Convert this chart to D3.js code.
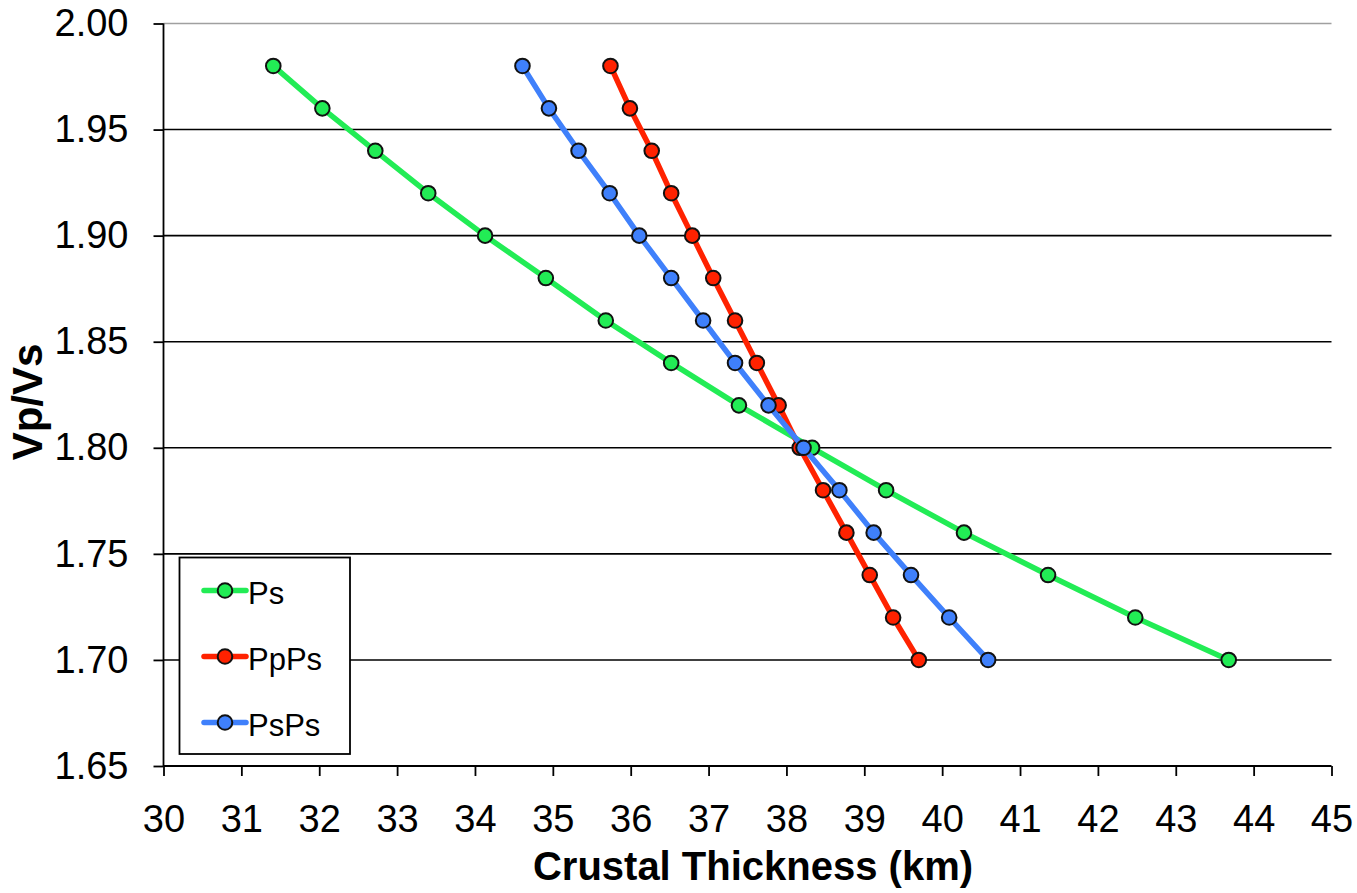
<!DOCTYPE html>
<html>
<head>
<meta charset="utf-8">
<script src="https://cdn.jsdelivr.net/npm/d3@7/dist/d3.min.js"></script>
<style>
  html, body { margin: 0; padding: 0; background: #fff; }
  svg { display: block; font-family: "Liberation Sans", Arial, sans-serif; }
</style>
</head>
<body>
<svg id="chart" width="1357" height="893"></svg>
<script>
// Vp/Vs ratios sampled for each phase
const vpvs = [1.98, 1.96, 1.94, 1.92, 1.90, 1.88, 1.86, 1.84, 1.82, 1.80, 1.78, 1.76, 1.74, 1.72, 1.70];

// Crustal thickness (km) for each Vp/Vs value
const psThickness   = [31.41, 32.04, 32.72, 33.40, 34.13, 34.91, 35.68, 36.52, 37.39, 38.33, 39.28, 40.28, 41.36, 42.48, 43.68];
const ppPsThickness = [35.74, 35.99, 36.27, 36.52, 36.79, 37.06, 37.34, 37.62, 37.90, 38.17, 38.47, 38.77, 39.07, 39.37, 39.70];
const psPsThickness = [34.61, 34.95, 35.33, 35.73, 36.11, 36.52, 36.93, 37.34, 37.77, 38.22, 38.68, 39.12, 39.60, 40.09, 40.59];

const seriesNames  = ["Ps", "PpPs", "PsPs"];
const seriesColors = ["#22ec55", "#ff2200", "#3f80fb"];

const xTicks = [30, 31, 32, 33, 34, 35, 36, 37, 38, 39, 40, 41, 42, 43, 44, 45];
const yTicks = [1.65, 1.70, 1.75, 1.80, 1.85, 1.90, 1.95, 2.00];

const series = [psThickness, ppPsThickness, psPsThickness].map((vals, i) => ({
  name: seriesNames[i],
  color: seriesColors[i],
  points: vals.map((t, j) => ({ x: t, y: vpvs[j] }))
}));

const svg = d3.select("#chart");
const margin = { left: 163.5, right: 1331.5, top: 23.5, bottom: 766 };

const x = d3.scaleLinear().domain([30, 45]).range([margin.left, margin.right]);
const y = d3.scaleLinear().domain([1.65, 2.00]).range([margin.bottom, margin.top]);

// Horizontal gridlines (top one lighter)
svg.append("g")
  .selectAll("line")
  .data(yTicks.filter(d => d > 1.65))
  .join("line")
  .attr("x1", x(30)).attr("x2", x(45))
  .attr("y1", d => y(d)).attr("y2", d => y(d))
  .attr("stroke", d => d >= 2.0 ? "#a0a0a0" : "#000")
  .attr("stroke-width", 1.6);

// Y axis
const yAxis = svg.append("g")
  .attr("transform", `translate(${x(30)},0)`)
  .call(d3.axisLeft(y).tickValues(yTicks).tickFormat(d3.format(".2f")).tickSize(10).tickPadding(25));
yAxis.select(".domain").attr("stroke", "#000").attr("stroke-width", 1.8).attr("d", `M0,${y(2.0)}V${y(1.65)}`);
yAxis.selectAll(".tick line").attr("stroke", "#000").attr("stroke-width", 1.8);
yAxis.selectAll(".tick text").attr("font-size", 38).attr("fill", "#000")
  .attr("font-family", "Liberation Sans, Arial, sans-serif");

// X axis
const xAxis = svg.append("g")
  .attr("transform", `translate(0,${y(1.65)})`)
  .call(d3.axisBottom(x).tickValues(xTicks).tickFormat(d3.format("d")).tickSize(10).tickPadding(29));
xAxis.select(".domain").attr("stroke", "#000").attr("stroke-width", 1.8).attr("d", `M${x(30)},0H${x(45)}`);
xAxis.selectAll(".tick line").attr("stroke", "#000").attr("stroke-width", 1.8);
xAxis.selectAll(".tick text").attr("font-size", 38).attr("fill", "#000")
  .attr("font-family", "Liberation Sans, Arial, sans-serif");

// Axis titles
svg.append("text")
  .attr("x", 753).attr("y", 880)
  .attr("text-anchor", "middle")
  .attr("font-size", 40).attr("font-weight", "bold")
  .text("Crustal Thickness (km)");

svg.append("text")
  .attr("transform", `translate(42,${402}) rotate(-90)`)
  .attr("text-anchor", "middle")
  .attr("font-size", 42).attr("font-weight", "bold")
  .text("Vp/Vs");

// Lines and markers
const line = d3.line().x(d => x(d.x)).y(d => y(d.y));

const groups = svg.append("g").selectAll("g")
  .data(series)
  .join("g");

groups.append("path")
  .attr("d", d => line(d.points))
  .attr("fill", "none")
  .attr("stroke", d => d.color)
  .attr("stroke-width", 5.5)
  .attr("stroke-linejoin", "round");

groups.each(function (s) {
  d3.select(this).selectAll("circle")
    .data(s.points)
    .join("circle")
    .attr("cx", d => x(d.x))
    .attr("cy", d => y(d.y))
    .attr("r", 7.3)
    .attr("fill", s.color)
    .attr("stroke", "#111")
    .attr("stroke-width", 2);
});

// Legend
const legend = svg.append("g");
legend.append("rect")
  .attr("x", 179.5).attr("y", 557.5)
  .attr("width", 170.5).attr("height", 196.5)
  .attr("fill", "#fff").attr("stroke", "#000").attr("stroke-width", 1.8);

const legendY = [590.5, 656.5, 722.5];
series.forEach((s, i) => {
  const g = legend.append("g").attr("transform", `translate(0,${legendY[i]})`);
  g.append("line")
    .attr("x1", 204).attr("x2", 246)
    .attr("stroke", s.color).attr("stroke-width", 5.5).attr("stroke-linecap", "round");
  g.append("circle")
    .attr("cx", 225).attr("r", 7.3)
    .attr("fill", s.color).attr("stroke", "#111").attr("stroke-width", 2);
  g.append("text")
    .attr("x", 248).attr("y", 13)
    .attr("font-size", 31)
    .text(s.name);
});
</script>
</body>
</html>
